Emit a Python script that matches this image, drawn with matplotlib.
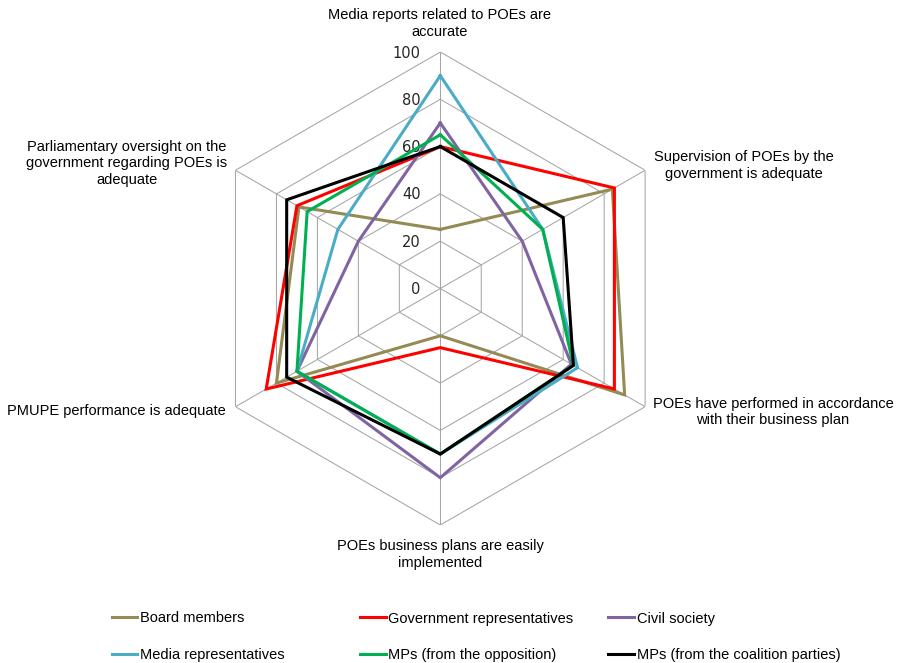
import numpy as np
import matplotlib
matplotlib.use('Agg')
import matplotlib.pyplot as plt
from matplotlib.lines import Line2D
from matplotlib.transforms import offset_copy

categories = [
    "Media reports related to POEs are\naccurate",
    "Supervision of POEs by the\ngovernment is adequate",
    "POEs have performed in accordance\nwith their business plan",
    "POEs business plans are easily\nimplemented",
    "PMUPE performance is adequate",
    "Parliamentary oversight on the\ngovernment regarding POEs is\nadequate",
]
series_names = ["Board members", "Government representatives", "Civil society",
                "Media representatives", "MPs (from the opposition)",
                "MPs (from the coalition parties)"]
board = [25, 84, 90, 20, 80, 69]
government = [60, 85, 85, 25, 85, 70]
civil = [70, 40, 64, 80, 70, 40]
media = [90, 50, 67, 70, 70, 50]
mps_opposition = [65, 50, 65, 70, 70, 65]
mps_coalition = [60, 60, 65, 70, 75, 75]
ticks = [0, 20, 40, 60, 80, 100]

colors = ["#948A54", "#FF0000", "#8064A2", "#4BACC6", "#00B050", "#000000"]
all_series = [board, government, civil, media, mps_opposition, mps_coalition]

W, H = 898, 663
fig = plt.figure(figsize=(W / 100, H / 100), dpi=100)
cx, cy, R = 440.3, 288.5, 236.5
ax = fig.add_axes([(cx - R) / W, 1 - (cy + R) / H, 2 * R / W, 2 * R / H], projection='polar')
ax.set_theta_offset(np.pi / 2)
ax.set_theta_direction(-1)
ax.set_ylim(0, 100)
ax.grid(False)
ax.spines['polar'].set_visible(False)
ax.set_xticks([])
ax.set_yticks([])
ax.patch.set_alpha(0)

n = len(categories)
theta = np.linspace(0, 2 * np.pi, n, endpoint=False)
theta_c = np.append(theta, theta[0])

gridc = "#A6A6A6"
for t in ticks[1:]:
    ax.plot(theta_c, [t] * (n + 1), color=gridc, lw=0.75, zorder=1)
for th in theta:
    ax.plot([th, th], [0, ticks[-1]], color=gridc, lw=0.75, zorder=1)

for vals, col in zip(all_series, colors):
    ax.plot(theta_c, list(vals) + [vals[0]], color=col, lw=2.2, zorder=3,
            solid_joinstyle='miter')

tr = offset_copy(ax.transData, fig=fig, x=-19.6, y=-1.0, units='dots')
for t in ticks:
    ax.text(0, t, str(t), transform=tr, ha='right', va='center',
            fontsize=10.5, color='#262626', family='DejaVu Sans', zorder=2)

lab_font = ['Liberation Sans', 'DejaVu Sans']
lab_pos = [(440, 23.5, 'center'), (744, 165.5, 'center'), (773, 412, 'center'),
           (440, 554.5, 'center'), (226, 411.5, 'right'), (127, 163.5, 'center')]
for txt, (px, py, ha) in zip(categories, lab_pos):
    fig.text(px / W, 1 - py / H, txt, ha=ha, va='center', multialignment='center',
             fontsize=10.5, family=lab_font, color='#000000', linespacing=1.22)

leg_font = {'family': ['Liberation Sans', 'DejaVu Sans'], 'size': 10.5}
col_x = [111.7, 360, 608.3]
for c in range(3):
    idx = [c, c + 3]
    handles = [Line2D([], [], color=colors[i], lw=2.2) for i in idx]
    labels = [series_names[i] for i in idx]
    fig.legend(handles, labels, loc='upper left',
               bbox_to_anchor=(col_x[c] / W, 1 - 611.5 / H),
               frameon=False, borderpad=0, borderaxespad=0,
               handlelength=1.76, handletextpad=0.18, labelspacing=1.53,
               prop=leg_font)

fig.savefig('out.png', dpi=100)
